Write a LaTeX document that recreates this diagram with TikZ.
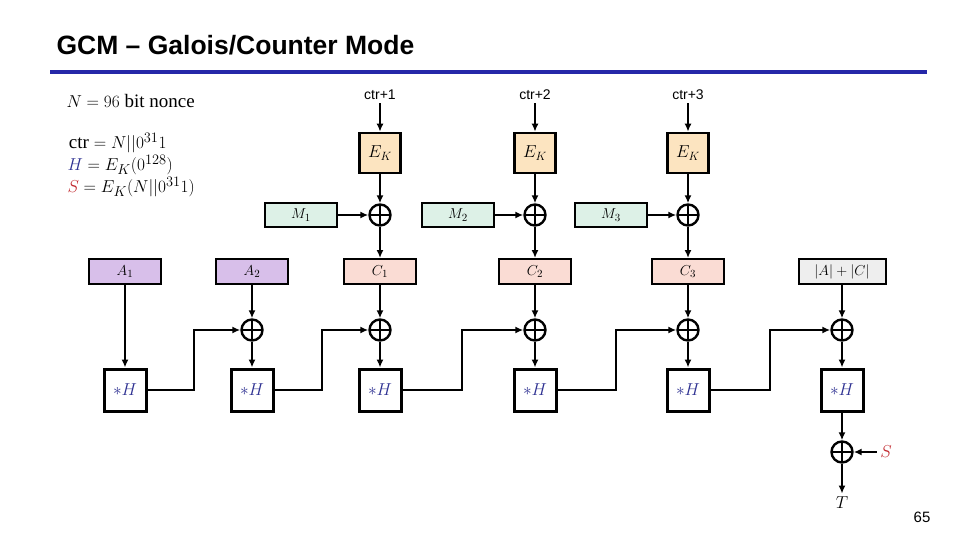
\documentclass[tikz,border=0pt]{standalone}
\usepackage{fontspec}
\setmainfont{Liberation Serif}
\newfontfamily\sansf{Liberation Sans}
\usetikzlibrary{arrows.meta}
\definecolor{ekc}{HTML}{FCE4C0}
\definecolor{mc}{HTML}{DDF1E7}
\definecolor{cc}{HTML}{FADCD4}
\definecolor{ac}{HTML}{D8BFEA}
\definecolor{lc}{HTML}{EEEEEE}
\definecolor{hblue}{HTML}{2E3192}
\definecolor{sred}{HTML}{C1272D}
\begin{document}
\begin{tikzpicture}[x=1pt,y=-1pt,
  fs/.style={font=\fontsize{#1}{#1}\selectfont},
  box/.style={draw,line width=2pt,minimum width=72pt,minimum height=25pt,inner sep=0pt,font=\fontsize{15}{15}\selectfont},
  ek/.style={draw,line width=2.6pt,fill=ekc,minimum width=41pt,minimum height=40pt,inner sep=0pt,font=\fontsize{17}{17}\selectfont},
  hb/.style={draw,line width=3pt,fill=white,minimum width=42pt,minimum height=42pt,inner sep=0pt,text=hblue,font=\fontsize{16}{16}\selectfont},
  xor/.style={draw,circle,line width=2.4pt,minimum size=21pt,inner sep=0pt,
    path picture={\draw[line width=2.4pt] (path picture bounding box.north)--(path picture bounding box.south)
      (path picture bounding box.west)--(path picture bounding box.east);}},
  ar/.style={line width=2.2pt,-{Latex[length=8pt,width=7pt]}}]
\useasboundingbox (0,0) rectangle (960,540);
\node[anchor=west,font=\sansf\bfseries\fontsize{26.5}{28}\selectfont] (title) at (53,45) {GCM – Galois/Counter Mode};
\draw[line width=4pt,color=hblue!80!blue] (50,72) -- (927,72);
\node[anchor=west,fs=19] (nn) at (63,101) {$N=96$ bit nonce};
\node[anchor=east,fs=19] (d1) at (170,143) {$\mathrm{ctr}=N||0^{31}1$};
\node[anchor=west,fs=19] (d2) at (64,165) {${\color{hblue}H}=E_K(0^{128})$};
\node[anchor=west,fs=19] (d3) at (64,187) {${\color{sred}S}=E_K(N||0^{31}1)$};
\node[font=\sansf\fontsize{15}{15}\selectfont] at (922,517) (pg) {65};
% columns
\foreach \i/\x/\mx in {1/380/301,2/535/458,3/688/611}{
  \node[font=\sansf\fontsize{14}{14}\selectfont] (ctr\i) at (\x,95) {ctr+\i};
  \node[ek] (ek\i) at (\x,153) {$E_K$};
  \node[xor] (x\i) at (\x,215) {};
  \node[box,fill=mc,minimum height=24pt] (m\i) at (\mx,215) {$M_{\i}$};
  \node[box,fill=cc] (c\i) at (\x,271.5) {$C_{\i}$};
  \draw[ar] (ctr\i) -- (ek\i);
  \draw[ar] (ek\i) -- (x\i);
  \draw[ar] (m\i) -- (x\i);
  \draw[ar] (x\i) -- (c\i);
}
\node[box,fill=ac] (a1) at (125,271.5) {$A_1$};
\node[box,fill=ac] (a2) at (252,271.5) {$A_2$};
\node[box,fill=lc,minimum width=87pt] (len) at (842,271.5) {$|A|+|C|$};
% GHASH row
\node[hb] (h1) at (125,390) {$*H$};
\foreach \n/\x in {2/252,3/380,4/535,5/688,6/842}{
  \node[xor] (y\n) at (\x,330) {};
  \node[hb] (h\n) at (\x,390) {$*H$};
  \draw[ar] (y\n) -- (h\n);
}
\draw[ar] (a1) -- (h1);
\draw[ar] (a2) -- (y2);
\draw[ar] (c1) -- (y3);
\draw[ar] (c2) -- (y4);
\draw[ar] (c3) -- (y5);
\draw[ar] (len) -- (y6);
\foreach \p/\n/\mx in {1/2/194,2/3/322,3/4/462,4/5/616,5/6/770}{
  \draw[ar] (h\p.east) -| (\mx,330) -- (y\n.west);
}
\node[xor] (z) at (842,452) {};
\node[text=sred,fs=19] (s) at (886,452) {$S$};
\node[fs=19] (t) at (842,503) {$T$};
\draw[ar] (h6) -- (z);
\draw[ar] (s) -- (z);
\draw[ar] (z) -- (t);
\end{tikzpicture}
\end{document}
